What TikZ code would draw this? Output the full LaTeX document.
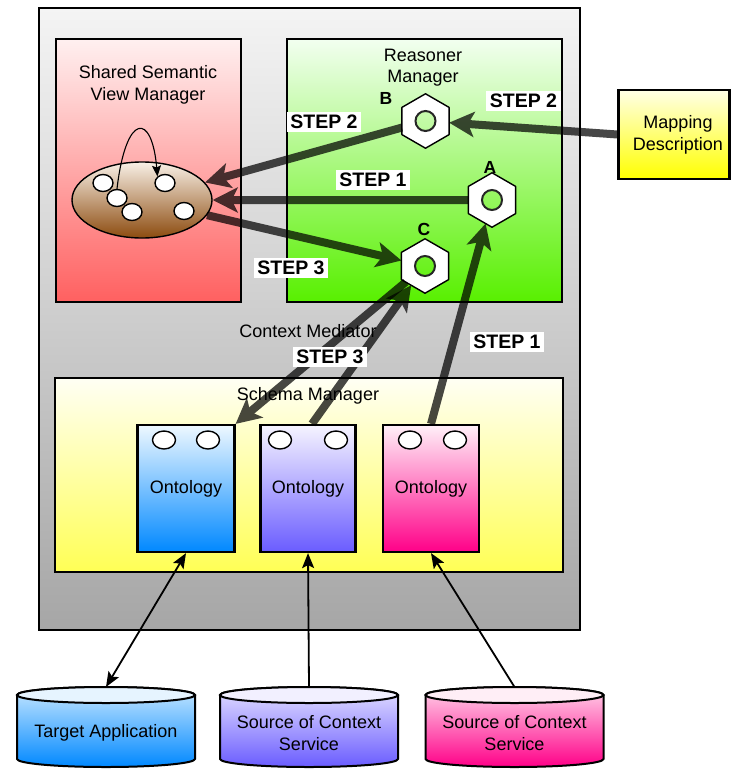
\documentclass[tikz,border=0pt]{standalone}
\usepackage{fontspec}
\setmainfont{Liberation Sans}
\usetikzlibrary{shapes.geometric,arrows.meta}

\definecolor{ctxtop}{HTML}{F4F4F4}
\definecolor{ctxbot}{HTML}{A6A6A6}
\definecolor{svmtop}{HTML}{FFF0F0}
\definecolor{svmbot}{HTML}{FF6060}
\definecolor{rmtop}{HTML}{F2FFF0}
\definecolor{rmbot}{HTML}{58F000}
\definecolor{maptop}{HTML}{FFFFE6}
\definecolor{mapbot}{HTML}{FFFF00}
\definecolor{smtop}{HTML}{FFFFF4}
\definecolor{smbot}{HTML}{FFFF55}
\definecolor{bluetop}{HTML}{EEF8FF}
\definecolor{bluebot}{HTML}{0088FF}
\definecolor{violettop}{HTML}{F6F4FF}
\definecolor{violetbot}{HTML}{6A5CFF}
\definecolor{pinktop}{HTML}{FFF0F8}
\definecolor{pinkbot}{HTML}{FF0088}
\definecolor{bluecap}{HTML}{E6F4FF}
\definecolor{bluebody}{HTML}{C8E8FF}
\definecolor{violetcap}{HTML}{F2F0FF}
\definecolor{violetbody}{HTML}{E4E0FF}
\definecolor{pinkcap}{HTML}{FFEEF6}
\definecolor{pinkbody}{HTML}{FFD4EA}
\definecolor{podtop}{HTML}{F8F0E6}
\definecolor{podbot}{HTML}{8C4B0F}

% database drum: #1 centre x, #2 name of top point, #3 cap, #4 body top, #5 body bottom
\newcommand{\drum}[5]{%
  \path[draw=black, line width=2pt, top color=#4, bottom color=#5]
    (#1-89,695) -- (#1-89,759)
    arc[start angle=180, end angle=360, x radius=89pt, y radius=8pt]
    -- (#1+89,695)
    arc[start angle=0, end angle=180, x radius=89pt, y radius=8pt] -- cycle;
  \path[draw=black, line width=2pt, fill=#3] (#1,695) ellipse[x radius=89pt, y radius=8pt];
  \coordinate (#2) at (#1,687);
}

\begin{document}
\begin{tikzpicture}[x=1pt, y=-1pt,
  panel/.style={draw=black, line width=2.2pt, inner sep=0pt},
  lbl/.style={font=\fontsize{18}{21.5}\selectfont, align=center, inner sep=0pt},
  steplbl/.style={font=\bfseries\fontsize{19.5}{22}\selectfont, fill=white, inner sep=3.5pt},
  letter/.style={font=\bfseries\fontsize{17.5}{20}\selectfont, inner sep=0pt},
  hexa/.style={regular polygon, regular polygon sides=6, shape border rotate=30,
               minimum size=54pt, inner sep=0pt},
  dot/.style={ellipse, draw=black, line width=1.4pt, fill=white,
              minimum width=20pt, minimum height=17pt, inner sep=0pt},
  odot/.style={dot, minimum width=23pt, minimum height=18pt},
  flow/.style={draw=black, line width=8pt, -{Stealth[length=25pt, width=25pt, inset=6pt]}},
  link/.style={draw=black, line width=1.8pt},
  tip/.tip={Stealth[length=15pt, width=12pt, inset=3pt]},
]
\useasboundingbox (0,0) rectangle (731,774);

% containers
\node[panel, minimum width=541pt, minimum height=622pt,
      top color=ctxtop, bottom color=ctxbot] (ctx) at (309.5,319) {};
\node[panel, minimum width=185pt, minimum height=263pt,
      top color=svmtop, bottom color=svmbot] (svm) at (148.5,170.5) {};
\node[panel, minimum width=275pt, minimum height=263pt,
      top color=rmtop, bottom color=rmbot] (rm) at (424.5,170.5) {};
\node[panel, minimum width=111pt, minimum height=89pt,
      top color=maptop, bottom color=mapbot] (map) at (674,134.5) {};
\node[panel, minimum width=508pt, minimum height=194pt,
      top color=smtop, bottom color=smbot] (sm) at (309,475) {};

% container titles
\node[lbl] (svmt) at (148,85) {Shared Semantic\\View Manager};
\node[lbl] (rmt) at (423,67.5) {Reasoner\\Manager};
\node[lbl] (mapt) at (678,135) {Mapping\\Description};
\node[lbl] (ctxt) at (308,331) {Context Mediator};
\node[lbl] (smt) at (308,396) {Schema Manager};

% ontologies
\node[panel, lbl, minimum width=97pt, minimum height=127pt,
      top color=bluetop, bottom color=bluebot] (o1) at (186,488.5) {Ontology};
\node[panel, lbl, minimum width=95pt, minimum height=127pt,
      top color=violettop, bottom color=violetbot] (o2) at (308,488.5) {Ontology};
\node[panel, lbl, minimum width=96pt, minimum height=127pt,
      top color=pinktop, bottom color=pinkbot] (o3) at (431,488.5) {Ontology};
\node[odot] (o1a) at (164,440) {};
\node[odot] (o1b) at (208,440) {};
\node[odot] (o2a) at (280,440) {};
\node[odot] (o2b) at (336,440) {};
\node[odot] (o3a) at (410,440) {};
\node[odot] (o3b) at (455,440) {};
\coordinate (o2top) at ([xshift=4pt]o2.north);

% shared semantic view
\node[ellipse, draw=black, line width=1.4pt, minimum width=140pt, minimum height=76pt,
      inner sep=0pt, top color=podtop, bottom color=podbot] (pod) at (142,200) {};
\node[dot] (c1) at (103,183) {};
\node[dot] (c2) at (117,198) {};
\node[dot] (c3) at (132,212) {};
\node[dot] (c4) at (165,183) {};
\node[dot] (c5) at (184,211) {};
\draw[line width=1.1pt, -{Stealth[length=11pt, width=9pt, inset=2pt]}]
  (c2.north) .. controls (126,112) and (152,112) .. (c4.north west);

% reasoners
\foreach \h/\p in {hexB/{(425.5,121)}, hexA/{(492,200)}, hexC/{(425,266)}} {
  \node[hexa] (\h) at \p {};
  \fill[white, even odd rule]
    (\h.corner 1) -- (\h.corner 2) -- (\h.corner 3) -- (\h.corner 4)
    -- (\h.corner 5) -- (\h.corner 6) -- cycle
    (\h.center) circle[radius=10pt];
  \draw[black, line width=1.4pt, line join=round]
    (\h.corner 1) -- (\h.corner 2) -- (\h.corner 3) -- (\h.corner 4)
    -- (\h.corner 5) -- (\h.corner 6) -- cycle;
  \draw[black!85, line width=2pt] (\h.center) circle[radius=10pt];
}
\node[letter] (lb) at (386,98) {B};
\node[letter] (la) at (490,167) {A};
\node[letter] (lc) at (424,229) {C};

% data sources
\drum{106}{cyl1}{bluecap}{bluebody}{bluebot}
\drum{309}{cyl2}{violetcap}{violetbody}{violetbot}
\drum{514.5}{cyl3}{pinkcap}{pinkbody}{pinkbot}
\node[lbl] (tgt) at (106,733) {Target Application};
\node[lbl] (src1) at (309,733) {Source of Context\\Service};
\node[lbl] (src2) at (514.5,733) {Source of Context\\Service};

\draw[link, tip-tip] (cyl1) -- (o1.south);
\draw[link, -tip] (cyl2) -- (o2.south);
\draw[link, -tip] (cyl3) -- (o3.south);

% reasoning steps
\foreach \a/\b in {map.west/hexB, hexB/pod, hexA/pod, pod/hexC,
                   o3.north/hexA, hexC/o1.north east, o2top/hexC} {
  \begin{scope}[transparency group, opacity=0.72]
    \draw[flow] (\a) -- (\b);
  \end{scope}
}

% step labels
\node[steplbl] (s2a) at (324,122) {STEP 2};
\node[steplbl] (s2b) at (523.5,101) {STEP 2};
\node[steplbl] (s1a) at (373,180) {STEP 1};
\node[steplbl] (s3a) at (291,268) {STEP 3};
\node[steplbl] (s3b) at (330,357) {STEP 3};
\node[steplbl] (s1b) at (507,342) {STEP 1};
\end{tikzpicture}
\end{document}
